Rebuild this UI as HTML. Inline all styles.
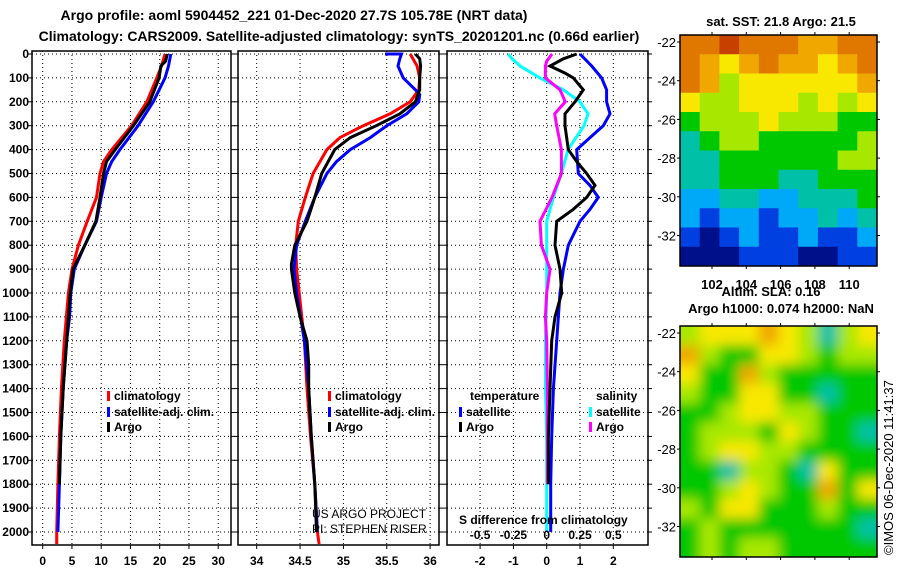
<!DOCTYPE html>
<html><head><meta charset="utf-8">
<style>
body{margin:0;background:#fff;}
svg{display:block;font-family:"Liberation Sans",Arial,sans-serif;}
.t{font-weight:bold;font-size:12px;fill:#000;}
.h{font-weight:bold;font-size:14px;fill:#000;}
.g{stroke:#000;stroke-width:1;stroke-dasharray:1 3;}
</style></head>
<body>
<svg id="fig" width="900" height="580" viewBox="0 0 900 580" xmlns="http://www.w3.org/2000/svg">
<rect width="900" height="580" fill="#fff"/>
<text class="h" x="294" y="20" text-anchor="middle">Argo profile: aoml 5904452_221 01-Dec-2020 27.7S 105.78E (NRT data)</text>
<text class="h" x="339" y="41" text-anchor="middle">Climatology: CARS2009. Satellite-adjusted climatology: synTS_20201201.nc (0.66d earlier)</text>
<g id="p1"></g>
<g id="p2"></g>
<g id="p3"></g>
<g id="m1"></g>
<g id="m2"></g>
<text class="h" x="781" y="26" text-anchor="middle" style="font-size:13px">sat. SST: 21.8 Argo: 21.5</text>
<text class="h" x="771" y="296" text-anchor="middle" style="font-size:13px">Altim. SLA: 0.16</text>
<text class="h" x="781" y="313" text-anchor="middle" style="font-size:13px">Argo h1000: 0.074 h2000: NaN</text>
<text x="893" y="555" transform="rotate(-90 893 555)" style="font-size:13px">©IMOS 06-Dec-2020 11:41:37</text>
<text x="312" y="518" style="font-size:12px">US ARGO PROJECT</text>
<text x="312" y="533" style="font-size:12px">PI: STEPHEN RISER</text>
</svg>
<script>
// ---------- data ----------
const depthTicks=[0,100,200,300,400,500,600,700,800,900,1000,1100,1200,1300,1400,1500,1600,1700,1800,1900,2000];
const tTicks=[0,5,10,15,20,25,30];
const sTicks=[34,34.5,35,35.5,36];
const dTicks=[-2,-1,0,1,2];
const dsTicks=[-0.5,-0.25,0,0.25,0.5];
const tClimDepth=[0,50,100,200,300,400,450,500,600,700,800,900,1000,1200,1400,1600,1800,2000,2050];
const tClim=[20.9,20.3,19.5,17.8,15.2,11.8,10.4,9.8,9.2,7.6,6.1,5.0,4.4,3.7,3.2,2.85,2.6,2.4,2.4];
const tSatDepth=[0,50,100,200,300,400,450,500,600,700,800,900,1000,1100,1200,1400,1600,1800,2000];
const tSat=[21.9,21.5,20.9,18.9,16.3,13.2,11.8,10.9,10.0,9.2,7.2,5.4,4.8,4.6,4.1,3.5,3.1,2.85,2.6];
const tArgoDepth=[0,30,50,100,200,300,400,450,500,600,700,800,900,1000,1200,1400,1600,1800];
const tArgo=[21.3,21.0,20.2,19.9,18.3,15.5,12.4,10.9,10.4,9.8,9.1,7.2,5.2,4.7,4.1,3.5,3.1,2.85];
const sClimDepth=[0,50,100,150,200,250,300,350,400,500,600,700,800,900,1000,1100,1200,1400,1600,1800,2000,2050];
const sClim=[35.77,35.85,35.88,35.87,35.77,35.54,35.23,34.96,34.81,34.65,34.56,34.48,34.45,34.46,34.49,34.52,34.55,34.58,34.62,34.67,34.70,34.72];
const sSatDepth=[0,0,20,50,100,150,170,200,250,300,350,400,450,500,600,700,800,900,1000,1200,1400,1600,1800,2000];
const sSat=[35.48,35.67,35.65,35.63,35.69,35.83,35.88,35.87,35.73,35.5,35.31,35.08,34.92,34.81,34.67,34.56,34.46,34.43,34.46,34.55,34.6,34.63,34.67,34.70];
const sArgoDepth=[0,20,50,100,150,200,250,300,350,400,500,600,700,800,880,900,1000,1100,1200,1300,1400,1600,1800,2000];
const sArgo=[35.83,35.88,35.89,35.88,35.88,35.83,35.65,35.38,35.08,34.9,34.75,34.67,34.58,34.44,34.4,34.4,34.44,34.5,34.58,34.6,34.6,34.63,34.67,34.69];
const dTSatDepth=[0,50,100,150,200,250,300,350,400,500,550,600,650,700,800,900,1000,1200,1400,1600,1800,2000];
const dTSat=[1.0,1.35,1.65,1.8,1.8,1.9,1.7,1.3,0.9,0.95,1.3,1.55,1.3,1.0,0.65,0.5,0.4,0.3,0.2,0.15,0.12,0.12];
const dTArgoDepth=[0,20,50,80,100,150,200,250,300,400,450,500,550,600,650,700,800,900,1000,1100,1200,1400,1600,1800];
const dTArgo=[0.9,0.5,0.1,0.55,0.8,1.1,0.85,0.55,0.55,0.65,0.9,1.2,1.45,1.2,0.8,0.3,0.25,0.4,0.45,0.25,0.15,0.1,0.05,0.05];
const dSSatDepth=[0,20,50,100,150,200,250,300,400,500,600,700,800,1000,1200,1400,1600,1800,2000];
const dSSat=[-0.29,-0.26,-0.2,-0.05,0.125,0.25,0.31,0.28,0.16,0.11,0.05,0,0,0,-0.01,-0.01,0,0,0];
const dSArgoDepth=[0,30,50,100,150,200,250,300,400,500,600,700,800,900,1000,1100,1200,1400,1600,1800];
const dSArgo=[0.04,0,-0.01,-0.01,0.1,0.14,0.06,0.075,0.11,0.11,0.04,-0.05,-0.04,0.025,0,-0.01,0,0.005,0.005,0.005];
const lonTicks=[102,104,106,108,110];
const latTicks=[-22,-24,-26,-28,-30,-32];
const sstGrid=[
[8,8,9,8,8,8,7,7,8,8],[8,7,6,7,8,7,7,6,7,8],[8,7,5,6,6,6,6,6,6,7],[6,5,5,6,6,6,5,6,5,6],
[4,5,5,5,6,5,5,5,4,4],[3,4,5,5,4,4,4,4,4,5],[3,3,4,4,4,4,4,4,5,5],[3,3,4,4,4,3,3,4,4,4],
[2,2,3,3,2,2,3,3,3,4],[2,1,2,2,1,2,2,3,2,3],[1,0,1,2,1,1,2,1,1,2],[0,0,0,1,1,1,0,0,1,1]];
const slaGrid=[
[5,6,6,6,7,6,5,3,5,6],[7,5,4,4,6,6,5,4,5,5],[6,4,4,7,5,4,4,4,4,4],[5,4,4,6,6,4,4,3,4,4],
[4,4,5,6,6,5,5,4,4,4],[4,5,5,5,4,6,5,4,4,3],[4,5,6,6,5,5,4,4,4,4],[4,4,3,5,5,4,3,6,4,4],
[4,4,5,6,5,4,4,7,4,6],[5,4,6,6,4,4,4,5,4,4],[4,5,4,4,4,4,4,4,4,3],[4,5,4,5,5,4,4,4,4,4]];
const cmap=["#00108a","#0040e0","#00a8f8","#00c0a8","#00c800","#a8e800","#f8e800","#f0a800","#e07800","#c84000"];

// ---------- helpers ----------
const NS="http://www.w3.org/2000/svg";
function mk(tag,attrs,parent){const e=document.createElementNS(NS,tag);for(const k in attrs)e.setAttribute(k,attrs[k]);parent.appendChild(e);return e;}
const yD=d=>54+0.239*d;
const TOP=51,BOT=545;
const xT=v=>42.7+5.85*v;
const xS=v=>256.7+86.7*(v-34);
const xDf=v=>546.7+33.3*v;
const xDs=v=>xDf(4*v);

function panel(g,x0,x1,xs,ticks,labels,leftLabels){
  for(const d of depthTicks){const l=mk('line',{x1:x0,x2:x1,y1:yD(d),y2:yD(d),class:'g'},g);
    mk('line',{x1:x0-4,x2:x0,y1:yD(d),y2:yD(d),stroke:'#000'},g);
    mk('line',{x1:x1,x2:x1+4,y1:yD(d),y2:yD(d),stroke:'#000'},g);
    if(leftLabels){const t=mk('text',{x:x0-3,y:yD(d)+4,'text-anchor':'end',class:'t'},g);t.textContent=d;}}
  ticks.forEach((v,i)=>{const x=xs(v);mk('line',{x1:x,x2:x,y1:TOP,y2:BOT,class:'g'},g);
    mk('line',{x1:x,x2:x,y1:BOT,y2:BOT+4,stroke:'#000'},g);
    const t=mk('text',{x:x,y:BOT+20,'text-anchor':'middle',class:'t'},g);t.textContent=labels[i];});
  const r=mk('rect',{x:x0,y:TOP,width:x1-x0,height:BOT-TOP,fill:'none',stroke:'#000','stroke-width':1.5},g);
  
}
function line(g,depths,vals,xs,color,name){
  const pts=depths.map((d,i)=>xs(vals[i]).toFixed(1)+','+yD(d).toFixed(1)).join(' ');
  const p=mk('polyline',{points:pts,fill:'none',stroke:color,'stroke-width':3,'stroke-linejoin':'miter'},g);
  
  
}
function legend(g,x,y,color,label){
  mk('rect',{x:x,y:y-9,width:3,height:10,fill:color},g);
  const t=mk('text',{x:x+7,y:y,class:'t'},g);t.textContent=label;
  
  
}

// panel 1
const p1=document.getElementById('p1');
panel(p1,32,231,xT,tTicks,tTicks,true);
line(p1,tClimDepth,tClim,xT,'#f00','temp-climatology-line');
line(p1,tSatDepth,tSat,xT,'#00f','temp-satellite-line');
line(p1,tArgoDepth,tArgo,xT,'#000','temp-argo-line');
legend(p1,107,400,'#f00','climatology');legend(p1,107,416,'#00f','satellite-adj. clim.');legend(p1,107,431,'#000','Argo');
// panel 2
const p2=document.getElementById('p2');
panel(p2,238,439,xS,sTicks,sTicks.map(String),false);
line(p2,sClimDepth,sClim,xS,'#f00','sal-climatology-line');
line(p2,sSatDepth,sSat,xS,'#00f','sal-satellite-line');
line(p2,sArgoDepth,sArgo,xS,'#000','sal-argo-line');
legend(p2,328,400,'#f00','climatology');legend(p2,328,416,'#00f','satellite-adj. clim.');legend(p2,328,431,'#000','Argo');
// panel 3
const p3=document.getElementById('p3');
panel(p3,447,648,xDf,dTicks,dTicks.map(String),false);
line(p3,dSSatDepth,dSSat,xDs,'#0ff','sal-diff-satellite-line');
line(p3,dSArgoDepth,dSArgo,xDs,'#f0f','sal-diff-argo-line');
line(p3,dTSatDepth,dTSat,xDf,'#00f','temp-diff-satellite-line');
line(p3,dTArgoDepth,dTArgo,xDf,'#000','temp-diff-argo-line');
let tt=mk('text',{x:470,y:400,class:'t'},p3);tt.textContent='temperature';


tt=mk('text',{x:596,y:400,class:'t'},p3);tt.textContent='salinity';


legend(p3,459,416,'#00f','satellite');legend(p3,459,431,'#000','Argo');
legend(p3,589,416,'#0ff','satellite');legend(p3,589,431,'#f0f','Argo');
tt=mk('text',{x:459,y:524,class:'t'},p3);tt.textContent='S difference from climatology';


dsTicks.forEach(v=>{const t=mk('text',{x:xDs(v),y:539,'text-anchor':'middle',class:'t'},p3);t.textContent=String(v);
  
  });

// maps
function map(g,grid,top,bot,blur,showLon,id){
  const x0=680,x1=877,w=(x1-x0)/grid[0].length,h=(bot-top)/grid.length;
  const cp=mk('clipPath',{id:'c'+id},g);mk('rect',{x:x0,y:top,width:x1-x0,height:bot-top},cp);
  if(blur){const f=mk('filter',{id:'f'+id,x:'-10%',y:'-10%',width:'120%',height:'120%'},g);mk('feGaussianBlur',{stdDeviation:blur},f);}
  const cg=mk('g',{'clip-path':'url(#c'+id+')'},g);
  const ig=mk('g',blur?{filter:'url(#f'+id+')'}:{},cg);
  mk('rect',{x:x0-20,y:top-20,width:x1-x0+40,height:bot-top+40,fill:cmap[grid[0][0]]},ig);
  grid.forEach((row,r)=>row.forEach((v,c)=>{
    const rc=mk('rect',{x:x0+c*w-(c==0?20:0),y:top+r*h-(r==0?20:0),width:w+0.5+(c==0||c==row.length-1?20:0),height:h+0.5+(r==0||r==grid.length-1?20:0),fill:cmap[v]},ig);
    
    
  }));
  mk('rect',{x:x0,y:top,width:x1-x0,height:bot-top,fill:'none',stroke:'#000','stroke-width':1.5},g);
  const xl=lon=>712+17.15*(lon-102);
  const yl=lat=>top+7+19.35*(-22-lat);
  lonTicks.forEach(l=>{mk('line',{x1:xl(l),x2:xl(l),y1:top-3,y2:top,stroke:'#000'},g);mk('line',{x1:xl(l),x2:xl(l),y1:bot,y2:bot+3,stroke:'#000'},g);
    if(showLon){const t=mk('text',{x:xl(l),y:bot+23,'text-anchor':'middle',class:'t',style:'font-size:13px'},g);t.textContent=l;
      
      }});
  latTicks.forEach(l=>{mk('line',{x1:x0-3,x2:x0,y1:yl(l),y2:yl(l),stroke:'#000'},g);mk('line',{x1:x1,x2:x1+3,y1:yl(l),y2:yl(l),stroke:'#000'},g);
    const t=mk('text',{x:x0-4,y:yl(l)+5,'text-anchor':'end',style:'font-size:13px'},g);t.textContent=l;
    
    });
}
map(document.getElementById('m1'),sstGrid,35,266,0,true,'1');
map(document.getElementById('m2'),slaGrid,326,557,6,false,'2');
</script>
</body></html>
